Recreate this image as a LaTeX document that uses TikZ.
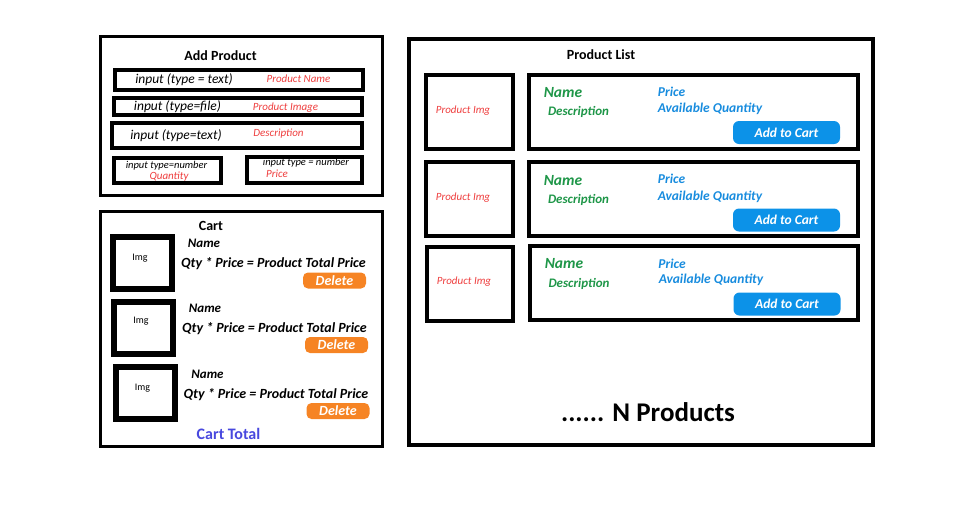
\documentclass[tikz,border=0pt]{standalone}
\usepackage{fontspec}
\setmainfont{Carlito}
\usepackage{xcolor}
\usetikzlibrary{positioning}

\definecolor{lblred}{RGB}{238,62,62}
\definecolor{nmgreen}{RGB}{30,150,72}
\definecolor{infoblue}{RGB}{24,140,222}
\definecolor{btnblue}{RGB}{12,146,232}
\definecolor{btnorange}{RGB}{246,132,36}
\definecolor{totalblue}{RGB}{72,72,222}

\begin{document}
\begin{tikzpicture}[
    x=1pt, y=-1pt,
    frame/.style={draw=black, line width=3pt, inner sep=0pt},
    field/.style={draw=black, line width=4pt, inner sep=0pt},
    imgbox/.style={draw=black, line width=6pt, inner sep=0pt,
      minimum width=59pt, minimum height=52pt},
    pbox/.style={draw=black, line width=4pt, inner sep=0pt, minimum height=74pt},
    ttl/.style={inner sep=0pt, font=\fontsize{14}{16}\selectfont\bfseries},
    hint/.style={inner sep=0pt, font=\fontsize{13.5}{15}\selectfont\itshape},
    smallhint/.style={inner sep=0pt, font=\fontsize{10.5}{12}\selectfont\itshape},
    redlbl/.style={inner sep=0pt, text=lblred, font=\fontsize{11}{12}\selectfont\itshape},
    nm/.style={inner sep=0pt, font=\fontsize{13}{15}\selectfont\bfseries\itshape},
    qty/.style={inner sep=0pt, font=\fontsize{14}{15}\selectfont\bfseries\itshape},
    imglbl/.style={inner sep=0pt, font=\fontsize{10}{12}\selectfont},
    delbtn/.style={fill=btnorange, rounded corners=5pt, inner sep=0pt,
      minimum width=63pt, minimum height=16pt, text=white,
      font=\fontsize{14}{15}\selectfont\bfseries\itshape},
    pname/.style={inner sep=0pt, text=nmgreen, font=\fontsize{15.5}{17}\selectfont\bfseries\itshape},
    pdesc/.style={inner sep=0pt, text=nmgreen, font=\fontsize{13}{15}\selectfont\bfseries\itshape},
    pinfo/.style={inner sep=0pt, text=infoblue, font=\fontsize{13.5}{15}\selectfont\bfseries\itshape},
    addbtn/.style={fill=btnblue, rounded corners=6pt, inner sep=0pt,
      minimum width=107pt, minimum height=23pt, text=white,
      font=\fontsize{13.5}{15}\selectfont\bfseries\itshape}
  ]
  \useasboundingbox (0,0) rectangle (978,504);

  % add product form
  \node[frame, minimum width=282pt, minimum height=159pt] (addprod) at (241.5,116) {};
  \node[ttl] (addttl) at (220.5,56) {Add Product};
  \node[field, minimum width=248pt, minimum height=20pt] (in1) at (239,80) {};
  \node[hint] at (184,80) {input (type = text)};
  \node[redlbl] at (298.5,78.5) {Product Name};
  \node[field, minimum width=248pt, minimum height=17pt] (in2) at (238,106.5) {};
  \node[hint] at (177.5,106.5) {input (type=file)};
  \node[redlbl] at (285.5,108) {Product Image};
  \node[field, minimum width=250pt, minimum height=25pt] (in3) at (237,135.5) {};
  \node[hint] at (176,136) {input (type=text)};
  \node[redlbl] at (278.5,134) {Description};
  \node[field, minimum width=107pt, minimum height=25pt] (in4) at (167.5,170.5) {};
  \node[smallhint] at (166.5,165.5) {input type=number};
  \node[redlbl] at (169,176.5) {Quantity};
  \node[field, minimum width=115pt, minimum height=26pt] (in5) at (304.5,170) {};
  \node[smallhint] at (306,163) {input type = number};
  \node[redlbl] at (277,174) {Price};

  % cart
  \node[frame, minimum width=282pt, minimum height=235pt] (cart) at (241.5,329) {};
  \node[ttl] (cartttl) at (211,226) {Cart};

  \node[imgbox] (cimg1) at (142,263) {};
  \node[imglbl] at (140,258) {Img};
  \node[nm] at (204,243.5) {Name};
  \node[qty] at (273.5,264) {Qty * Price = Product Total Price};
  \node[delbtn] (del1) at (334.5,280.5) {Delete};

  \node[imgbox] (cimg2) at (143.5,327.5) {};
  \node[imglbl] at (141,321.5) {Img};
  \node[nm] at (205,308) {Name};
  \node[qty] at (274.5,329) {Qty * Price = Product Total Price};
  \node[delbtn] (del2) at (336.5,345) {Delete};

  \node[imgbox] (cimg3) at (145.5,393) {};
  \node[imglbl] at (142.5,388) {Img};
  \node[nm] at (207.5,374) {Name};
  \node[qty] at (276,395) {Qty * Price = Product Total Price};
  \node[delbtn] (del3) at (338,411) {Delete};

  \node[inner sep=0pt, text=totalblue, font=\fontsize{16}{18}\selectfont\bfseries]
    (carttotal) at (228.5,434) {Cart Total};

  % product list
  \node[draw=black, line width=4pt, inner sep=0pt, minimum width=464pt, minimum height=406pt]
    (plist) at (641,242) {};
  \node[ttl] (plistttl) at (601,55) {Product List};

  \node[pbox, minimum width=87pt] (pimg1) at (469.5,111.5) {};
  \node[redlbl] at (463,110.5) {Product Img};
  \node[pbox, minimum width=329pt] (pinf1) at (693.5,111.5) {};
  \node[pname] at (563,92.5) {Name};
  \node[pdesc] at (578.5,111.5) {Description};
  \node[pinfo] at (671.5,91.5) {Price};
  \node[pinfo] at (710,108.5) {Available Quantity};
  \node[addbtn] (add1) at (786.5,132.5) {Add to Cart};

  \node[pbox, minimum width=87pt] (pimg2) at (469.5,199) {};
  \node[redlbl] at (463,197.5) {Product Img};
  \node[pbox, minimum width=329pt] (pinf2) at (693.5,199) {};
  \node[pname] at (563,180.5) {Name};
  \node[pdesc] at (578.5,199.5) {Description};
  \node[pinfo] at (671.5,179) {Price};
  \node[pinfo] at (710,196.5) {Available Quantity};
  \node[addbtn] (add2) at (786.5,220) {Add to Cart};

  \node[pbox, minimum width=86pt] (pimg3) at (470,283.5) {};
  \node[redlbl] at (464,281.5) {Product Img};
  \node[pbox, minimum width=328pt] (pinf3) at (694,283) {};
  \node[pname] at (564,264) {Name};
  \node[pdesc] at (579,283.5) {Description};
  \node[pinfo] at (672,263.5) {Price};
  \node[pinfo] at (711,280) {Available Quantity};
  \node[addbtn] (add3) at (787,304) {Add to Cart};

  \node[inner sep=0pt, font=\fontsize{27}{30}\selectfont\bfseries] (more) at (648,412) {...... N Products};
\end{tikzpicture}
\end{document}
